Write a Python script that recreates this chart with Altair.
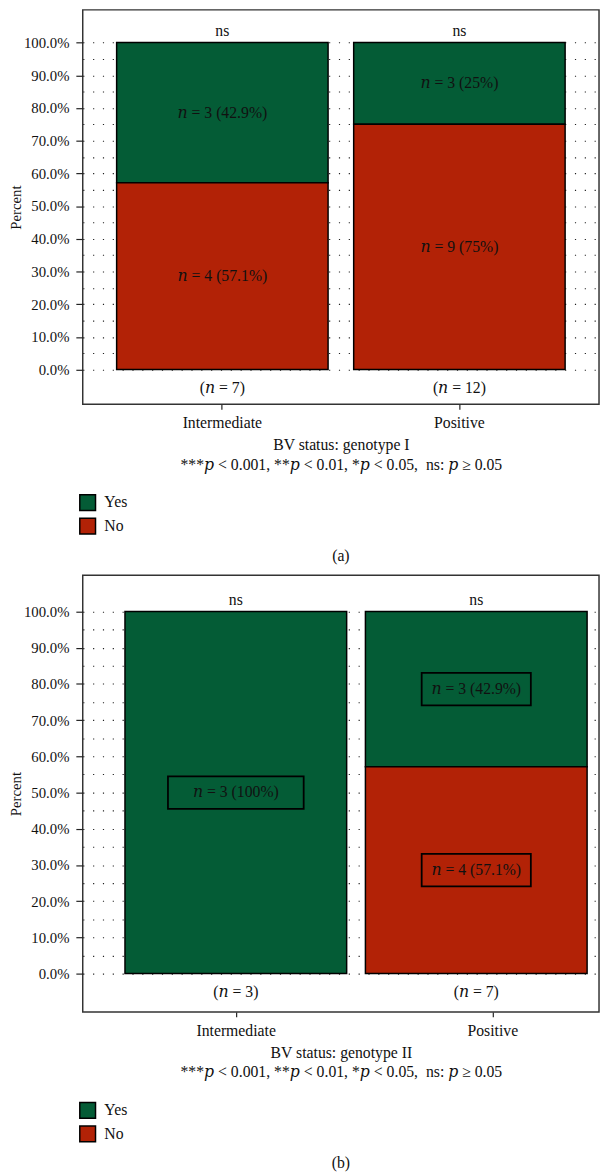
import altair as alt
import pandas as pd

# ---------------- data ----------------
categories = ["Intermediate", "Positive"]
responses = ["Yes", "No"]
yes_a = [3, 3]
no_a = [4, 9]
yes_b = [3, 3]
no_b = [0, 4]
sig_a = ["ns", "ns"]
sig_b = ["ns", "ns"]
x_titles = ["BV status: genotype I", "BV status: genotype II"]
p_note = "***𝑝 < 0.001, **𝑝 < 0.01, *𝑝 < 0.05,\u00a0 ns: 𝑝 ≥ 0.05"
captions = ["(a)", "(b)"]
y_tick_values = [0.0, 0.05, 0.1, 0.15, 0.2, 0.25, 0.3, 0.35, 0.4, 0.45, 0.5,
                 0.55, 0.6, 0.65, 0.7, 0.75, 0.8, 0.85, 0.9, 0.95, 1.0]

# ---------------- style ----------------
FONT = "Liberation Serif, DejaVu Serif, serif"
GREEN = "#045C36"
RED = "#B22206"
W = 525
FS = 16


def make_panel(yes, no, sig, xtitle, caption, height, bar_sc, axis_sc, boxed):
    rows = []
    for i, c in enumerate(categories):
        total = yes[i] + no[i]
        rows.append(dict(cat=c, resp="Yes", count=yes[i], total=total, order=1))
        rows.append(dict(cat=c, resp="No", count=no[i], total=total, order=0))
    seg = pd.DataFrame(rows)
    cats = pd.DataFrame({"cat": categories, "sig": sig,
                         "total": [a + b for a, b in zip(yes, no)]})

    ysc = alt.Scale(domain=[-0.106, 1.1], nice=False, zero=False)
    yax = alt.Axis(
        values=y_tick_values,
        format=".1%",
        labelExpr="round(datum.value*100) % 10 === 0 ? datum.label : ''",
        tickOpacity={"condition": {"test": "round(datum.value*100) % 10 === 0", "value": 1}, "value": 0},
        grid=True, gridDash=[1.2, 8.8], gridColor="#222", gridWidth=1.1,
        domain=False, tickSize=7, tickColor="#222", tickWidth=1.2,
        labelFont=FONT, labelFontSize=15, labelColor="#111", labelPadding=7,
        title="Percent", titleFont=FONT, titleFontSize=15, titleFontWeight="normal",
        titleColor="#111", titlePadding=0,
    )
    xbar = alt.X("cat:N", scale=alt.Scale(type="band", domain=categories, **bar_sc), axis=None)

    seg_base = (
        alt.Chart(seg)
        .transform_filter("datum.count > 0")
        .transform_calculate(pct="datum.count / datum.total")
        .transform_stack(stack="pct", groupby=["cat"], as_=["y0", "y1"],
                         sort=[alt.SortField("order", order="ascending")])
        .transform_calculate(
            mid="(datum.y0 + datum.y1) / 2",
            label="'𝑛 = ' + datum.count + ' (' + format(datum.pct, '.1~%') + ')'",
        )
    )
    leg = alt.Legend(
        title=None, orient="none", legendX=-4, legendY=height + 91, direction="vertical",
        symbolType="square", symbolSize=256, symbolStrokeColor="black",
        symbolStrokeWidth=1.5, symbolOpacity=1, labelFont=FONT, labelFontSize=FS,
        labelColor="#111", rowPadding=2, labelOffset=8, padding=0,
    )
    bars = seg_base.mark_bar(stroke="black", strokeWidth=1.5).encode(
        x=xbar,
        y=alt.Y("y0:Q", scale=ysc, axis=yax),
        y2="y1:Q",
        color=alt.Color("resp:N", scale=alt.Scale(domain=responses, range=[GREEN, RED]), legend=leg),
    )
    texts = seg_base.mark_text(font=FONT, fontSize=FS, color="#111").encode(
        x=xbar, y=alt.Y("mid:Q", scale=ysc, axis=yax), text="label:N"
    )
    layers = [bars, texts]
    if boxed:
        path_w = "M-1,-0.239L1,-0.239L1,0.239L-1,0.239Z"
        path_n = "M-1,-0.297L1,-0.297L1,0.297L-1,0.297Z"
        boxes = seg_base.mark_point(filled=False, stroke="black", strokeWidth=1.8, opacity=1).encode(
            x=xbar,
            y=alt.Y("mid:Q", scale=ysc, axis=yax),
            shape=alt.condition("datum.pct >= 1", alt.value(path_w), alt.value(path_n)),
            size=alt.condition("datum.pct >= 1", alt.value(138 * 138), alt.value(111 * 111)),
        )
        layers.append(boxes)
    ns = (
        alt.Chart(cats).transform_calculate(top="1")
        .mark_text(font=FONT, fontSize=FS, color="#111", dy=-12)
        .encode(x=xbar, y=alt.Y("top:Q", scale=ysc, axis=yax), text="sig:N")
    )
    nlab = (
        alt.Chart(cats).transform_calculate(bottom="0", ntext="'(𝑛 = ' + datum.total + ')'")
        .mark_text(font=FONT, fontSize=FS, color="#111", dy=19)
        .encode(x=xbar, y=alt.Y("bottom:Q", scale=ysc, axis=yax), text="ntext:N")
    )
    xax = alt.Axis(
        title=[xtitle, p_note], domain=False, ticks=True, tickSize=5, tickColor="#222",
        tickWidth=1.2, labelAngle=0, labelFont=FONT, labelFontSize=FS, labelColor="#111",
        labelPadding=6, titleFont=FONT, titleFontSize=FS, titleFontWeight="normal",
        titleColor="#111", titlePadding=6, titleLineHeight=20, grid=False,
    )
    axis_layer = (
        alt.Chart(cats).transform_calculate(half="0.5")
        .mark_point(opacity=0, size=1)
        .encode(
            x=alt.X("cat:N", scale=alt.Scale(type="band", domain=categories, **axis_sc), axis=xax),
            y=alt.Y("half:Q", scale=ysc, axis=yax),
        )
    )
    layers += [ns, nlab, axis_layer]
    return (
        alt.layer(*layers)
        .resolve_scale(x="independent")
        .properties(
            width=W, height=height,
            title=alt.TitleParams(caption, orient="bottom", anchor="middle", font=FONT,
                                  fontSize=FS, fontWeight="normal", color="#111", offset=11),
        )
    )


panel_a = make_panel(
    yes_a, no_a, sig_a, x_titles[0], captions[0], 401,
    dict(paddingInner=0.108, paddingOuter=0.143, align=0.5),
    dict(paddingInner=0.108, paddingOuter=0.143, align=0.5),
    False,
)
panel_b = make_panel(
    yes_b, no_b, sig_b, x_titles[1], captions[1], 444,
    dict(paddingInner=0.078, paddingOuter=0.1126, align=0.78),
    dict(paddingInner=0.5, paddingOuter=0.2557, align=0.68),
    True,
)

chart = (
    alt.vconcat(panel_a, panel_b, spacing=10)
    .resolve_scale(color="independent")
    .resolve_legend(color="independent")
    .configure_view(stroke="#333", strokeWidth=1.5)
    .properties(padding={"left": 0, "top": -9, "right": 0, "bottom": 0})
)

chart.save("out.html", embed_options={"renderer": "svg", "actions": False})
